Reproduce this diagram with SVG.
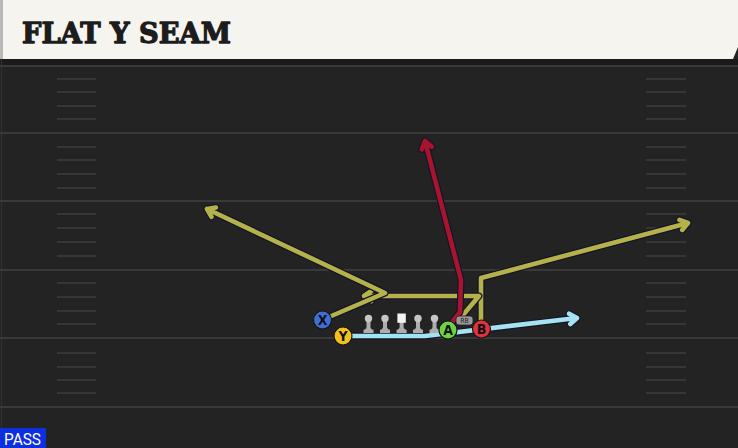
<svg xmlns="http://www.w3.org/2000/svg" width="738" height="448" viewBox="0 0 738 448">
<style>
.yard{stroke:#393939;stroke-width:2}
.hash{stroke:#363636;stroke-width:2}
.ol{fill:none;stroke:#15152a;stroke-width:7;stroke-linejoin:round;stroke-linecap:round}
.rt{fill:none;stroke-width:4.6;stroke-linejoin:round;stroke-linecap:round}
.yel{stroke:#b5b24a}
.red{stroke:#a8132e}
.blu{stroke:#a6e3f0}
.pl{stroke:#161616;stroke-width:1.2}
.lt{font-family:"DejaVu Sans Condensed","DejaVu Sans",sans-serif;font-weight:bold;font-size:14px;fill:#111;text-anchor:middle}
.head{fill:#c6c6c6}
.body{fill:#adadad}
</style>
<defs>
<path id="pawn" d="M-2,321 L-2,327 Q-2,329.3 -5,329.8 L-5,333 L5,333 L5,329.8 Q2,329.3 2,327 L2,321 Z"/>
</defs>
<rect x="0" y="0" width="738" height="448" fill="#232323"/>
<rect x="0" y="59" width="738" height="6" fill="#1a1a1a"/>
<line x1="1.5" y1="59" x2="1.5" y2="448" stroke="#2f2f2f" stroke-width="1.5"/>
<g id="field">
<line class="yard" x1="0" y1="66" x2="738" y2="66"/>
<line class="yard" x1="0" y1="133" x2="738" y2="133"/>
<line class="yard" x1="0" y1="201" x2="738" y2="201"/>
<line class="yard" x1="0" y1="270" x2="738" y2="270"/>
<line class="yard" x1="0" y1="338" x2="738" y2="338"/>
<line class="yard" x1="0" y1="407" x2="738" y2="407"/>
<g class="hash">
<line x1="57" y1="79" x2="96" y2="79"/><line x1="57" y1="92" x2="96" y2="92"/><line x1="57" y1="106" x2="96" y2="106"/><line x1="57" y1="119" x2="96" y2="119"/>
<line x1="57" y1="147" x2="96" y2="147"/><line x1="57" y1="160" x2="96" y2="160"/><line x1="57" y1="174" x2="96" y2="174"/><line x1="57" y1="188" x2="96" y2="188"/>
<line x1="57" y1="214" x2="96" y2="214"/><line x1="57" y1="228" x2="96" y2="228"/><line x1="57" y1="242" x2="96" y2="242"/><line x1="57" y1="256" x2="96" y2="256"/>
<line x1="57" y1="283" x2="96" y2="283"/><line x1="57" y1="297" x2="96" y2="297"/><line x1="57" y1="311" x2="96" y2="311"/><line x1="57" y1="324" x2="96" y2="324"/>
<line x1="57" y1="353" x2="96" y2="353"/><line x1="57" y1="367" x2="96" y2="367"/><line x1="57" y1="380" x2="96" y2="380"/><line x1="57" y1="393" x2="96" y2="393"/>
<line x1="646" y1="79" x2="686" y2="79"/><line x1="646" y1="92" x2="686" y2="92"/><line x1="646" y1="106" x2="686" y2="106"/><line x1="646" y1="119" x2="686" y2="119"/>
<line x1="646" y1="147" x2="686" y2="147"/><line x1="646" y1="160" x2="686" y2="160"/><line x1="646" y1="174" x2="686" y2="174"/><line x1="646" y1="188" x2="686" y2="188"/>
<line x1="646" y1="214" x2="686" y2="214"/><line x1="646" y1="228" x2="686" y2="228"/><line x1="646" y1="242" x2="686" y2="242"/><line x1="646" y1="256" x2="686" y2="256"/>
<line x1="646" y1="283" x2="686" y2="283"/><line x1="646" y1="297" x2="686" y2="297"/><line x1="646" y1="311" x2="686" y2="311"/><line x1="646" y1="324" x2="686" y2="324"/>
<line x1="646" y1="353" x2="686" y2="353"/><line x1="646" y1="367" x2="686" y2="367"/><line x1="646" y1="380" x2="686" y2="380"/><line x1="646" y1="393" x2="686" y2="393"/>
</g>
</g>
<g id="header">
<path d="M0,0 H738 V47 L733,59 H0 Z" fill="#f6f4ee"/>
<rect x="0" y="0" width="3" height="59" fill="#b9b9b9"/>
<text x="22" y="42.5" font-family="'DejaVu Serif',serif" font-weight="bold" font-size="28" fill="#1c1c1c" stroke="#1c1c1c" stroke-width="1.3" stroke-linejoin="round" textLength="209" lengthAdjust="spacingAndGlyphs">FLAT Y SEAM</text>
</g>
<g id="connectors">
<g id="route-y">
<path class="ol" d="M350,336 L425,336 L577,318 M569.1,313.7 L577,318 L570.3,324"/>
<path class="rt blu" d="M350,336 L425,336 L577,318 M569.1,313.7 L577,318 L570.3,324"/>
</g>
<g id="route-b">
<path class="ol" d="M481,322 L481,278 L688,223 M679.5,219.9 L688,223 L682.2,229.9"/>
<path class="rt yel" d="M481,322 L481,278 L688,223 M679.5,219.9 L688,223 L682.2,229.9"/>
</g>
<g id="route-rb">
<path class="ol" d="M463,315 L479,296 L364,296 M371.4,290.8 L364,296 L371.4,301.2"/>
<path class="rt yel" d="M463,315 L479,296 L364,296 M371.4,290.8 L364,296 L371.4,301.2"/>
</g>
<g id="route-x">
<path class="ol" d="M322,320 L385,293 L207,209 M211.5,216.8 L207,209 L215.9,207.5"/>
<path class="rt yel" d="M322,320 L385,293 L207,209 M211.5,216.8 L207,209 L215.9,207.5"/>
</g>
<g id="route-a">
<path class="ol" d="M450,325 L460,312 L461,280 L425,141 M421.8,149.4 L425,141 L431.8,146.8"/>
<path class="rt red" d="M450,325 L460,312 L461,280 L425,141 M421.8,149.4 L425,141 L431.8,146.8"/>
</g>
</g>
<g id="line">
<g id="lt"><use href="#pawn" class="body" x="368.5"/><circle class="head" cx="368.5" cy="318.5" r="3.7"/></g>
<g id="lg"><use href="#pawn" class="body" x="385"/><circle class="head" cx="385" cy="318.5" r="3.7"/></g>
<g id="c"><use href="#pawn" class="body" x="401.6"/><rect x="397.4" y="313.5" width="8.4" height="9.3" fill="#f4f4f4"/></g>
<g id="rg"><use href="#pawn" class="body" x="418"/><circle class="head" cx="418" cy="318.5" r="3.7"/></g>
<g id="rt"><use href="#pawn" class="body" x="434.5"/><circle class="head" cx="434.5" cy="318.5" r="3.7"/></g>
</g>
<g id="rb"><rect x="456" y="316" width="17" height="9" rx="3" fill="#9a9a9a" stroke="#222" stroke-width="0.8"/><text x="464.5" y="323.2" font-family="'DejaVu Sans Condensed','DejaVu Sans',sans-serif" font-size="7" fill="#222" text-anchor="middle">RB</text></g>
<g id="x"><circle class="pl" cx="322.5" cy="320" r="9" fill="#3f6fd6"/><text class="lt" x="322.5" y="325">X</text></g>
<g id="y"><circle class="pl" cx="343" cy="336" r="9" fill="#f2c21a"/><text class="lt" x="343" y="341">Y</text></g>
<g id="a"><circle class="pl" cx="448" cy="330" r="9" fill="#6fd145"/><text class="lt" x="448" y="335">A</text></g>
<g id="b"><circle class="pl" cx="481.5" cy="329" r="9" fill="#e0323c"/><text class="lt" x="481.5" y="334">B</text></g>
<g id="pass"><rect x="0" y="428" width="46" height="20" fill="#0d2fe0"/><text x="4" y="445" font-family="Roboto,'Liberation Sans',sans-serif" font-size="16" fill="#fff" textLength="37" lengthAdjust="spacingAndGlyphs">PASS</text></g>
</svg>
